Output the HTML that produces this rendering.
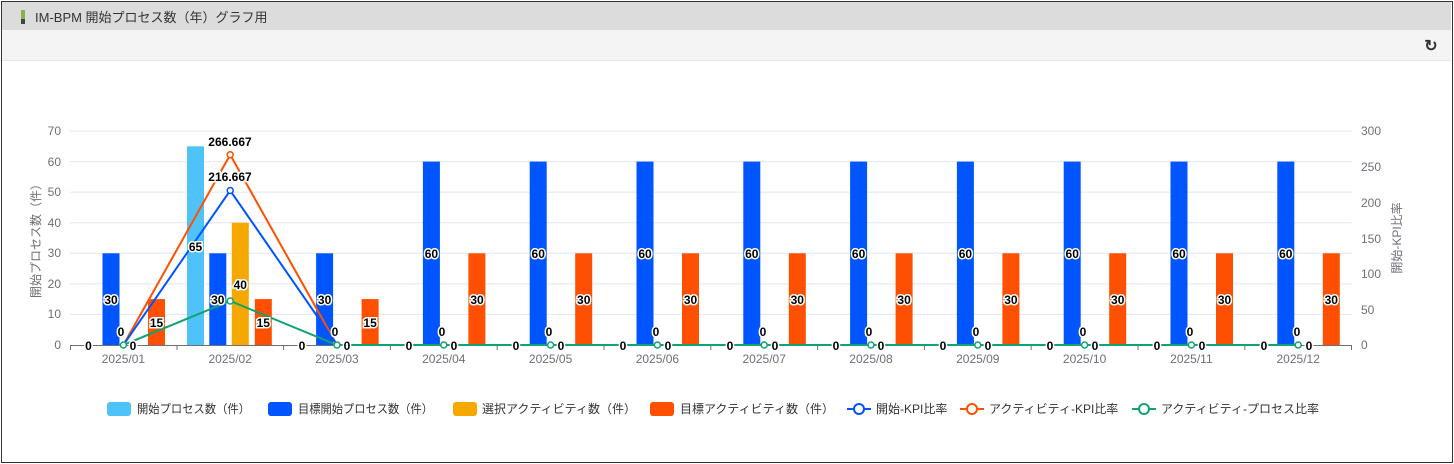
<!DOCTYPE html>
<html><head><meta charset="utf-8"><style>
body{margin:0;background:#fff;width:1454px;height:464px;overflow:hidden;font-family:"Liberation Sans","Noto Sans CJK JP",sans-serif}
.frame{position:absolute;left:1px;top:1px;width:1450px;height:460px;border:1px solid #333}
.hd{position:absolute;left:2px;top:2px;width:1449px;height:28px;background:#dcdcdc}
.tb{position:absolute;left:2px;top:30px;width:1449px;height:30px;background:#f4f4f4;border-bottom:1px solid #e8e8e8}
</style></head><body>
<div class="frame"></div>
<div class="hd"></div><div class="tb"></div>
<svg width="1454" height="464" style="position:absolute;left:0;top:0" font-family="Liberation Sans, Noto Sans CJK JP, sans-serif">
<rect x="21" y="10" width="4" height="9" fill="#8ab04a"/><rect x="21" y="19" width="4" height="5" fill="#444"/>
<text x="35" y="22" font-size="13" fill="#333">IM-BPM 開始プロセス数（年）グラフ用</text>
<text x="1431" y="51" font-size="16" font-weight="bold" fill="#333" text-anchor="middle">↻</text>
<g stroke="#e0e6f1" stroke-width="1">
<line x1="70" x2="1352" y1="314.4" y2="314.4"/><line x1="70" x2="1352" y1="283.9" y2="283.9"/><line x1="70" x2="1352" y1="253.3" y2="253.3"/><line x1="70" x2="1352" y1="222.7" y2="222.7"/><line x1="70" x2="1352" y1="192.1" y2="192.1"/><line x1="70" x2="1352" y1="161.6" y2="161.6"/><line x1="70" x2="1352" y1="131" y2="131"/>
</g>
<g font-size="12" fill="#6e7079" text-anchor="end">
<text x="61" y="349">0</text><text x="61" y="318">10</text><text x="61" y="288">20</text><text x="61" y="257">30</text><text x="61" y="227">40</text><text x="61" y="196">50</text><text x="61" y="166">60</text><text x="61" y="135">70</text>
</g>
<g font-size="12" fill="#6e7079">
<text x="1361" y="349">0</text><text x="1361" y="314">50</text><text x="1361" y="278">100</text><text x="1361" y="243">150</text><text x="1361" y="207">200</text><text x="1361" y="171">250</text><text x="1361" y="135">300</text>
</g>
<text transform="translate(40,238) rotate(-90)" font-size="12" fill="#6e7079" text-anchor="middle">開始プロセス数（件）</text>
<text transform="translate(1401,238) rotate(-90)" font-size="12" fill="#6e7079" text-anchor="middle">開始-KPI比率</text>
<g>
<rect x="187" y="146.3" width="17" height="198.7" fill="#4fc3f7"/>
<g fill="#0055ff">
<rect x="102.5" y="253.3" width="17" height="91.7"/><rect x="209.3" y="253.3" width="17" height="91.7"/><rect x="316.1" y="253.3" width="17" height="91.7"/>
<rect x="422.9" y="161.6" width="17" height="183.4"/><rect x="529.7" y="161.6" width="17" height="183.4"/><rect x="636.5" y="161.6" width="17" height="183.4"/><rect x="743.3" y="161.6" width="17" height="183.4"/><rect x="850.1" y="161.6" width="17" height="183.4"/><rect x="956.9" y="161.6" width="17" height="183.4"/><rect x="1063.7" y="161.6" width="17" height="183.4"/><rect x="1170.5" y="161.6" width="17" height="183.4"/><rect x="1277.3" y="161.6" width="17" height="183.4"/>
</g>
<rect x="231.8" y="222.7" width="17" height="122.3" fill="#f5a800"/>
<g fill="#ff4f00">
<rect x="148" y="299.1" width="17" height="45.9"/><rect x="254.8" y="299.1" width="17" height="45.9"/><rect x="361.6" y="299.1" width="17" height="45.9"/>
<rect x="468.4" y="253.3" width="17" height="91.7"/><rect x="575.2" y="253.3" width="17" height="91.7"/><rect x="682" y="253.3" width="17" height="91.7"/><rect x="788.8" y="253.3" width="17" height="91.7"/><rect x="895.6" y="253.3" width="17" height="91.7"/><rect x="1002.4" y="253.3" width="17" height="91.7"/><rect x="1109.2" y="253.3" width="17" height="91.7"/><rect x="1216" y="253.3" width="17" height="91.7"/><rect x="1322.8" y="253.3" width="17" height="91.7"/>
</g>
</g>
<line x1="70" x2="1352" y1="345.5" y2="345.5" stroke="#6e7079"/>
<g stroke="#6e7079">
<line x1="70.5" x2="70.5" y1="345" y2="350"/><line x1="177" x2="177" y1="345" y2="350"/><line x1="283.6" x2="283.6" y1="345" y2="350"/><line x1="390.4" x2="390.4" y1="345" y2="350"/><line x1="497.2" x2="497.2" y1="345" y2="350"/><line x1="604" x2="604" y1="345" y2="350"/><line x1="710.8" x2="710.8" y1="345" y2="350"/><line x1="817.6" x2="817.6" y1="345" y2="350"/><line x1="924.4" x2="924.4" y1="345" y2="350"/><line x1="1031.2" x2="1031.2" y1="345" y2="350"/><line x1="1138" x2="1138" y1="345" y2="350"/><line x1="1244.8" x2="1244.8" y1="345" y2="350"/><line x1="1351.5" x2="1351.5" y1="345" y2="350"/>
</g>
<g font-size="12" fill="#6e7079" text-anchor="middle">
<text x="123.4" y="363">2025/01</text><text x="230.2" y="363">2025/02</text><text x="337" y="363">2025/03</text><text x="443.8" y="363">2025/04</text><text x="550.6" y="363">2025/05</text><text x="657.4" y="363">2025/06</text><text x="764.2" y="363">2025/07</text><text x="871" y="363">2025/08</text><text x="977.8" y="363">2025/09</text><text x="1084.6" y="363">2025/10</text><text x="1191.4" y="363">2025/11</text><text x="1298.2" y="363">2025/12</text>
</g>
<polyline fill="none" stroke="#ff4f00" stroke-width="2" points="123.4,345 230.2,154.8 337,345 443.8,345 550.6,345 657.4,345 764.2,345 871,345 977.8,345 1084.6,345 1191.4,345 1298.2,345"/>
<polyline fill="none" stroke="#0055ff" stroke-width="2" points="123.4,345 230.2,190.5 337,345 443.8,345 550.6,345 657.4,345 764.2,345 871,345 977.8,345 1084.6,345 1191.4,345 1298.2,345"/>
<polyline fill="none" stroke="#11a36f" stroke-width="2" points="123.4,345 230.2,301 337,345 443.8,345 550.6,345 657.4,345 764.2,345 871,345 977.8,345 1084.6,345 1191.4,345 1298.2,345"/>
<g fill="#fff" stroke-width="1.5">
<circle cx="230.2" cy="154.8" r="3" stroke="#ff4f00"/><circle cx="230.2" cy="190.5" r="3" stroke="#0055ff"/><circle cx="230.2" cy="301" r="3" stroke="#11a36f"/>
<g stroke="#11a36f"><circle cx="123.4" cy="345" r="3"/><circle cx="337" cy="345" r="3"/><circle cx="443.8" cy="345" r="3"/><circle cx="550.6" cy="345" r="3"/><circle cx="657.4" cy="345" r="3"/><circle cx="764.2" cy="345" r="3"/><circle cx="871" cy="345" r="3"/><circle cx="977.8" cy="345" r="3"/><circle cx="1084.6" cy="345" r="3"/><circle cx="1191.4" cy="345" r="3"/><circle cx="1298.2" cy="345" r="3"/></g>
</g>
<g font-size="12" font-weight="bold" fill="#000" stroke="#fff" stroke-width="3" paint-order="stroke" text-anchor="middle">
<text x="230" y="146">266.667</text><text x="230" y="181">216.667</text>
<text x="195.5" y="251">65</text><text x="240.3" y="289">40</text><text x="217.8" y="304">30</text>
<text x="111" y="304">30</text><text x="324.6" y="304">30</text>
<text x="156.5" y="327">15</text><text x="263.3" y="327">15</text><text x="370.1" y="327">15</text>
<text x="88.5" y="350">0</text><text x="133" y="350">0</text><text x="121" y="336">0</text>
<text x="302" y="350">0</text><text x="347" y="350">0</text><text x="335" y="336">0</text>
<text x="409" y="350">0</text><text x="454" y="350">0</text><text x="442" y="336">0</text><text x="431.4" y="258">60</text><text x="477" y="304">30</text>
<text x="516" y="350">0</text><text x="561" y="350">0</text><text x="549" y="336">0</text><text x="538.2" y="258">60</text><text x="583.7" y="304">30</text>
<text x="623" y="350">0</text><text x="668" y="350">0</text><text x="656" y="336">0</text><text x="645" y="258">60</text><text x="690.5" y="304">30</text>
<text x="730" y="350">0</text><text x="775" y="350">0</text><text x="763" y="336">0</text><text x="751.8" y="258">60</text><text x="797.3" y="304">30</text>
<text x="836" y="350">0</text><text x="881" y="350">0</text><text x="869" y="336">0</text><text x="858.6" y="258">60</text><text x="904.1" y="304">30</text>
<text x="943" y="350">0</text><text x="988" y="350">0</text><text x="976" y="336">0</text><text x="965.4" y="258">60</text><text x="1010.9" y="304">30</text>
<text x="1050" y="350">0</text><text x="1095" y="350">0</text><text x="1083" y="336">0</text><text x="1072.2" y="258">60</text><text x="1117.7" y="304">30</text>
<text x="1157" y="350">0</text><text x="1202" y="350">0</text><text x="1190" y="336">0</text><text x="1179" y="258">60</text><text x="1224.5" y="304">30</text>
<text x="1264" y="350">0</text><text x="1309" y="350">0</text><text x="1297" y="336">0</text><text x="1285.8" y="258">60</text><text x="1331.3" y="304">30</text>
</g>
<g font-size="12" fill="#333">
<rect x="107" y="402" width="24" height="14" rx="3" fill="#4fc3f7"/><text x="137" y="413" textLength="113" lengthAdjust="spacingAndGlyphs">開始プロセス数（件）</text>
<rect x="268" y="402" width="24" height="14" rx="3" fill="#0055ff"/><text x="298" y="413" textLength="135" lengthAdjust="spacingAndGlyphs">目標開始プロセス数（件）</text>
<rect x="453" y="402" width="24" height="14" rx="3" fill="#f5a800"/><text x="482" y="413">選択アクティビティ数（件）</text>
<rect x="650" y="402" width="24" height="14" rx="3" fill="#ff4f00"/><text x="680" y="413">目標アクティビティ数（件）</text>
<line x1="847" x2="871" y1="409" y2="409" stroke="#0055ff" stroke-width="2"/><circle cx="859" cy="409" r="5" fill="#fff" stroke="#0055ff" stroke-width="2"/><text x="876" y="413">開始-KPI比率</text>
<line x1="960" x2="984" y1="409" y2="409" stroke="#ff4f00" stroke-width="2"/><circle cx="972" cy="409" r="5" fill="#fff" stroke="#ff4f00" stroke-width="2"/><text x="989" y="413">アクティビティ-KPI比率</text>
<line x1="1132" x2="1156" y1="409" y2="409" stroke="#11a36f" stroke-width="2"/><circle cx="1144" cy="409" r="5" fill="#fff" stroke="#11a36f" stroke-width="2"/><text x="1161" y="413">アクティビティ-プロセス比率</text>
</g>
</svg>
</body></html>
